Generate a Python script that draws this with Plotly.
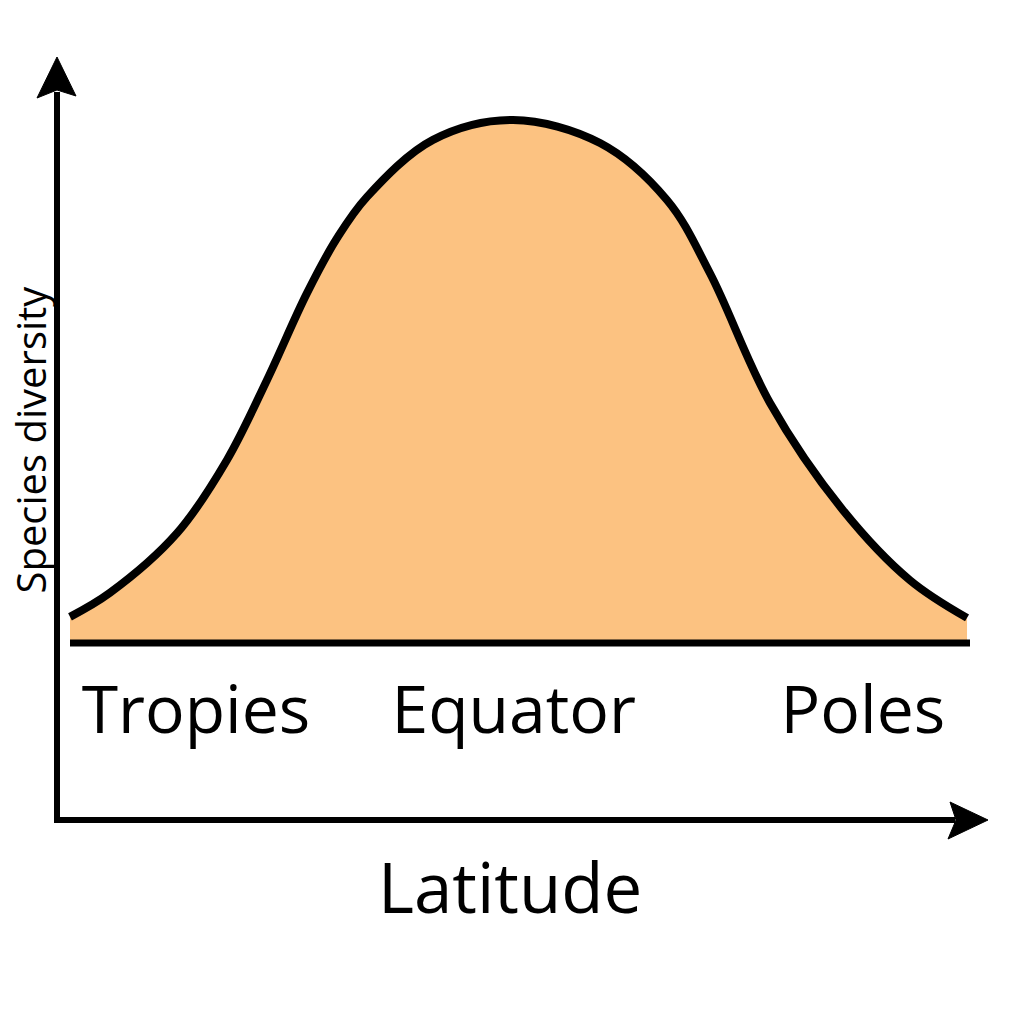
import plotly.graph_objects as go

# Relative latitude position (0 = left end, 100 = right end) and relative species diversity
position = [0, 4.44, 11.89, 17.44, 21.89, 26.33, 29.67, 33.0, 40.33, 49.22,
            58.89, 66.33, 71.11, 77.78, 85.89, 93.33, 99.67]
diversity = [5.0, 9.6, 21.0, 35.0, 50.3, 66.9, 77.4, 85.3, 96.2, 100.0,
             95.6, 84.7, 70.7, 45.9, 25.4, 12.0, 4.8]

zone_labels = ["Tropies", "Equator", "Poles"]
zone_positions = [14.0, 49.3, 88.1]
zone_label_level = [-14.0, -14.0, -14.0]

x_title = "Latitude"
y_title = "Species diversity"

FONT = "Open Sans"
W = H = 1024

def px(x):
    return x / W

def py(y):
    return 1 - y / H

fig = go.Figure()

fig.add_trace(go.Scatter(
    x=position, y=diversity, mode="lines",
    line=dict(color="black", width=8, shape="spline", smoothing=1.0),
    fill="tozeroy", fillcolor="#FCC281",
    hoverinfo="skip", showlegend=False,
))

# baseline under the curve
fig.add_trace(go.Scatter(
    x=[position[0], 100], y=[0, 0], mode="lines",
    line=dict(color="black", width=7),
    hoverinfo="skip", showlegend=False,
))

fig.add_trace(go.Scatter(
    x=zone_positions, y=zone_label_level, mode="text", text=zone_labels,
    textfont=dict(family=FONT, size=66, color="black"),
    textposition="middle center",
    hoverinfo="skip", showlegend=False,
))

shapes = [
    # y axis line
    dict(type="line", xref="paper", yref="paper",
         x0=px(57), y0=py(822), x1=px(57), y1=py(92),
         line=dict(color="black", width=6)),
    # x axis line
    dict(type="line", xref="paper", yref="paper",
         x0=px(54), y0=py(820), x1=px(955), y1=py(820),
         line=dict(color="black", width=6)),
    # y arrow head
    dict(type="path", xref="paper", yref="paper",
         path=f"M {px(57)} {py(57)} L {px(76)} {py(96)} L {px(57)} {py(90)} L {px(37)} {py(98)} Z",
         fillcolor="black", line=dict(color="black", width=1)),
    # x arrow head
    dict(type="path", xref="paper", yref="paper",
         path=f"M {px(988)} {py(820)} L {px(948)} {py(839)} L {px(956)} {py(820)} L {px(950)} {py(802)} Z",
         fillcolor="black", line=dict(color="black", width=1)),
]

annotations = [
    dict(text=x_title, xref="paper", yref="paper", x=px(510), y=py(886),
         xanchor="center", yanchor="middle", showarrow=False,
         font=dict(family=FONT, size=69, color="black")),
    dict(text=y_title, xref="paper", yref="paper", x=0.0, y=py(440),
         xanchor="left", yanchor="middle", textangle=-90, showarrow=False,
         font=dict(family=FONT, size=40, color="black")),
]

fig.update_layout(
    width=W, height=H,
    margin=dict(l=0, r=0, t=0, b=0),
    paper_bgcolor="white", plot_bgcolor="white",
    xaxis=dict(range=[-70 / 9, (W - 70) / 9], visible=False, fixedrange=True),
    yaxis=dict(range=[-(H - 643) / 5.23, 643 / 5.23], visible=False, fixedrange=True),
    shapes=shapes, annotations=annotations,
    showlegend=False,
)

fig.write_html("out.html", config={"displayModeBar": False})
